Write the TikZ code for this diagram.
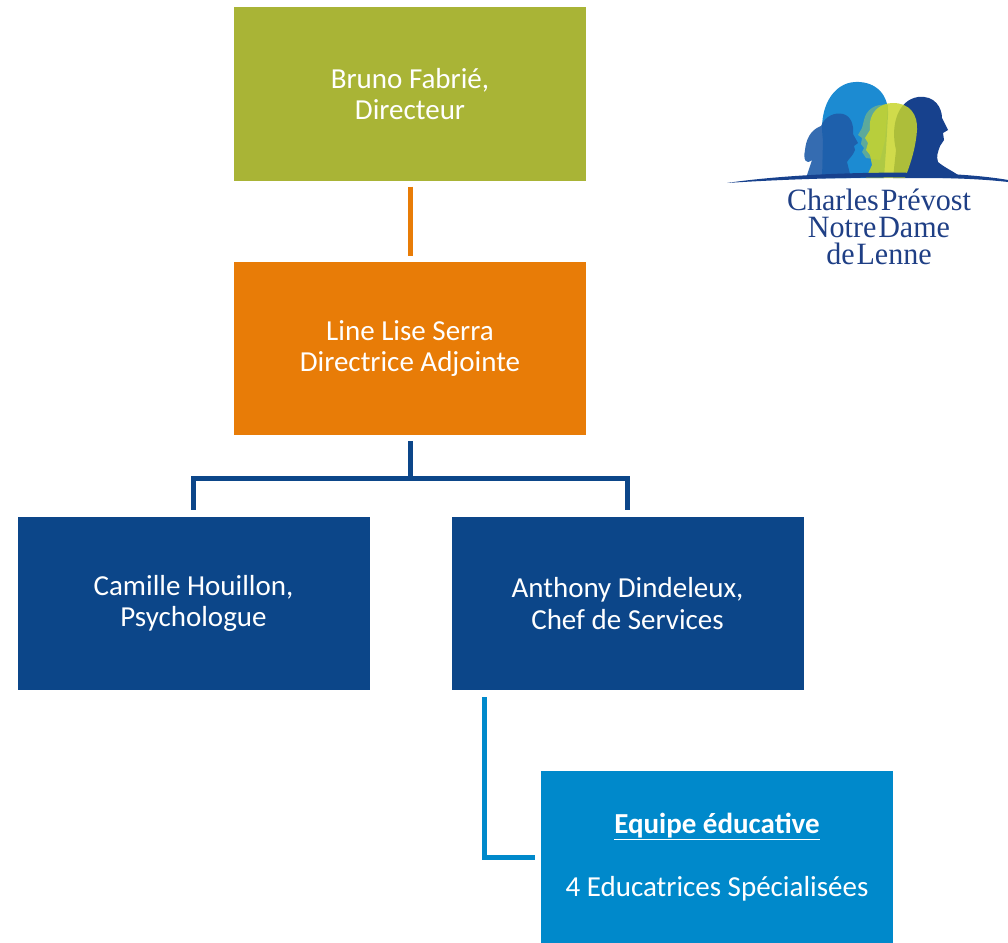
\documentclass[tikz,border=0pt]{standalone}
\usepackage{fontspec}
\setmainfont{Carlito}
\newfontfamily\logofont[FakeStretch=0.97]{Liberation Serif}
\usetikzlibrary{calc}
\definecolor{cgreen}{HTML}{A9B436}
\definecolor{corange}{HTML}{E87C07}
\definecolor{cnavy}{HTML}{0C4689}
\definecolor{clight}{HTML}{0089CB}
\definecolor{lbig}{HTML}{1C8BD2}
\definecolor{lgirl}{HTML}{1F5CA8}
\definecolor{ldark}{HTML}{17418D}
\definecolor{lteal}{HTML}{5DA99B}
\definecolor{lyellow}{HTML}{C8D52C}
\definecolor{ltext}{HTML}{1F3F85}
\newcommand\tightspace{\spaceskip=0.06em\relax}
\begin{document}
\begin{tikzpicture}[x=1pt,y=-1pt,
  orgbox/.style={rectangle, minimum width=352pt, minimum height=173pt, inner sep=0pt,
    text=white, align=center, font=\fontsize{29}{31.5}\selectfont},
  link/.style={line width=5pt},
  logotext/.style={anchor=base, inner sep=0pt, text=ltext, align=center,
    font=\logofont\fontsize{31}{27}\selectfont\tightspace}]
\useasboundingbox (0,0) rectangle (1008,942);
% boxes
\node[orgbox, fill=cgreen] (dir) at (410,94) {Bruno Fabrié,\\Directeur};
\node[orgbox, fill=corange] (adj) at (410,348.5) {Line Lise Serra\\Directrice Adjointe};
\node[orgbox, fill=cnavy] (psy) at (193.5,603.5) {Camille Houillon,\\Psychologue};
\node[orgbox, fill=cnavy] (chef) at (627.5,603.5) {Anthony Dindeleux,\\Chef de Services};
\node[orgbox, fill=clight, minimum height=172pt] (equipe) at (717,857)
  {\textbf{\underline{Equipe éducative}}\\[31.5pt]4 Educatrices Spécialisées};
% connectors
\draw[link, corange] ($(dir.south)+(0,6)$) -- ($(adj.north)+(0,-6)$);
\draw[link, cnavy] ($(adj.south)+(0,6)$) -- ++(0,37) coordinate (j);
\draw[link, cnavy] ($(psy.north)+(0,-7)$) |- (j) -| ($(chef.north)+(0,-7)$);
\draw[link, clight] ($(chef.south west)+(33,7)$) |- ($(equipe.west)+(-6,0)$);
% logo heads
\fill[lbig] (822,178) -- (823,140) .. controls (818,108) and (833,83) .. (855,82)
  .. controls (877,81) and (889,96) .. (888,115) -- (886,150) -- (884,178) -- cycle;
\fill[lgirl, opacity=.9] (806,178) -- (812,160) .. controls (806,165) and (803,160) .. (805,150)
  .. controls (806,140) and (810,130) .. (821,126)
  .. controls (825,116) and (835,112) .. (843,114)
  .. controls (851,116) and (854,125) .. (853,134) -- (858,143) -- (854,146) -- (855,150)
  .. controls (853,156) and (849,158) .. (847,162) -- (851,178) -- cycle;
\fill[ldark] (893,178) -- (896,150) .. controls (890,125) and (898,100) .. (918,97)
  .. controls (935,95) and (942,108) .. (942,118) -- (948,130) -- (943,133) -- (944,140)
  -- (940,146) .. controls (938,152) and (936,156) .. (938,162)
  .. controls (945,168) and (955,172) .. (962,178) -- cycle;
\fill[lteal] (888,105) .. controls (875,103) and (866,110) .. (864,120) -- (862,128)
  -- (858,135) -- (862,138) -- (861,144) -- (864,148) -- (862,152) -- (866,158)
  -- (880,160) -- (885,140) -- cycle;
\fill[lyellow, opacity=.85] (866,178) -- (872,165) -- (870,155) -- (866,150) -- (868,143)
  -- (865,138) -- (870,130) .. controls (868,112) and (880,103) .. (893,103)
  .. controls (910,103) and (918,115) .. (917,130)
  .. controls (916,145) and (912,160) .. (905,178) -- cycle;
\fill[ldark] (727,183) .. controls (800,172) and (940,168) .. (1008,180) -- (1008,182)
  .. controls (940,174) and (800,178) .. (727,183) -- cycle;
% logo text (anchor = baseline of the last line)
\node[logotext] (logo) at (879,264) {Charles Prévost\\Notre Dame\\de Lenne};
\end{tikzpicture}
\end{document}
